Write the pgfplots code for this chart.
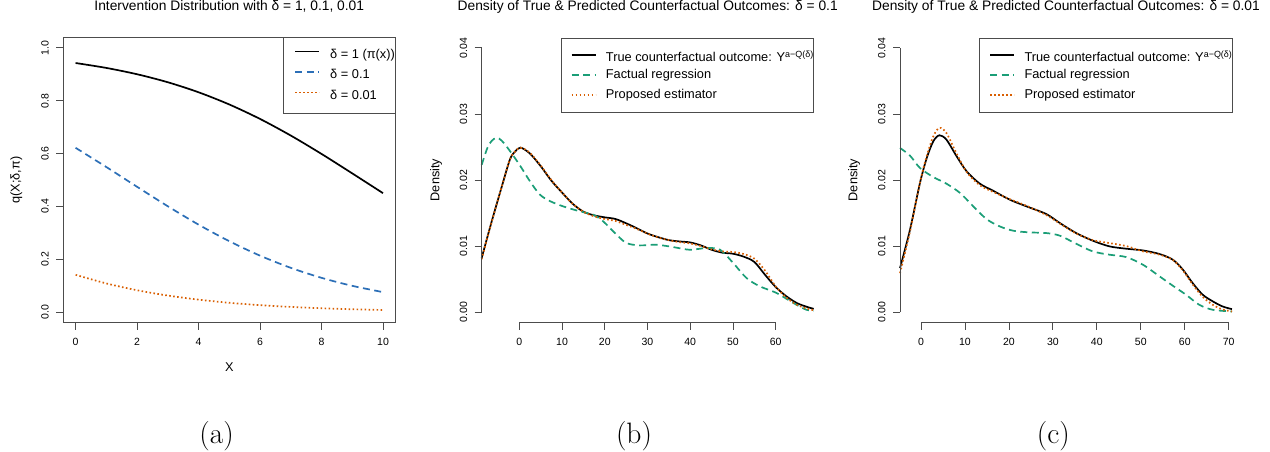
\documentclass[border=0pt]{standalone}
\usepackage{fontspec}
\setsansfont{Liberation Sans}
\usepackage{pgfplots}
\pgfplotsset{compat=1.18}

\definecolor{rblue}{HTML}{2C6FB7}
\definecolor{rorange}{HTML}{D95F02}
\definecolor{rgreen}{HTML}{1B9E77}

\newcommand{\tickfont}{\sffamily\fontsize{10.5}{12}\selectfont}
\newcommand{\labfont}{\sffamily\fontsize{12.7}{14}\selectfont}
\newcommand{\legfont}{\sffamily\fontsize{12.8}{14}\selectfont}
\newcommand{\titfont}{\sffamily\fontsize{13.8}{15}\selectfont}

\tikzset{
  ctrue/.style={black, line width=1.7pt},
  cblue/.style={rblue, line width=1.7pt, dash pattern=on 7pt off 4.5pt},
  cfact/.style={rgreen, line width=1.7pt, dash pattern=on 7pt off 4.5pt},
  cprop/.style={rorange, line width=1.7pt, dash pattern=on 1.6pt off 2.4pt},
  raxis/.style={black!70, line width=0.8pt},
  legtext/.style={anchor=base west, font=\legfont, inner sep=0pt},
}

\pgfplotsset{
  rpanel/.style={
    scale only axis, width=332pt, height=285.4pt, anchor=south west,
    clip=false,
    tick pos=left, tick align=outside, major tick length=7pt,
    every tick/.style={black!70, line width=0.8pt},
    axis line style={black!70, line width=0.8pt},
    scaled ticks=false,
    /pgf/number format/assume math mode=true,
    ticklabel style={font=\tickfont, inner sep=0pt},
    yticklabel style={rotate=90, anchor=south,
      /pgf/number format/fixed, /pgf/number format/fixed zerofill},
    xticklabel style={anchor=north},
    xticklabel shift=8.6pt, yticklabel shift=7.3pt,
    title style={font=\titfont, at={([yshift=21.3pt]axis description cs:0.5,1)}, anchor=base},
    label style={font=\labfont},
    xlabel style={at={([yshift=-44pt]axis description cs:0.5,0)}, anchor=center},
    ylabel style={anchor=center},
    legend style={at={(1,1)}, anchor=north east, draw=black!70, line width=0.8pt,
      inner xsep=0pt, inner ysep=11.5pt, row sep=8pt, column sep=10pt, font=\legfont,
      nodes={inner sep=0pt, text height=9pt, text depth=3pt}},
    legend cell align=left,
    legend image code/.code={\path (0pt,0pt); \draw[##1] (10.7pt,3.6pt) -- (34.7pt,3.6pt);},
  },
  % density panels: no box, only short axis lines
  dpanel/.style={rpanel,
    ymin=-0.0016, ymax=0.0416, ytick={0,0.01,0.02,0.03,0.04},
    yticklabel style={/pgf/number format/precision=2},
    axis line style={draw=none},
    ylabel={Density},
  },
}

\begin{document}
\begin{tikzpicture}
\path[use as bounding box] (0pt,0pt) rectangle (1270pt,451pt);

% (a) intervention distribution
\begin{axis}[rpanel, at={(63.3pt,128.3pt)},
  xmin=-0.4, xmax=10.4, ymin=-0.04, ymax=1.04,
  xtick={0,2,...,10}, ytick={0,0.2,0.4,0.6,0.8,1.0},
  yticklabel style={/pgf/number format/precision=1},
  title={Intervention Distribution with δ = 1, 0.1, 0.01},
  xlabel={X}, ylabel={q(X;δ,π)},
  ylabel style={at={([xshift=-47pt]axis description cs:0,0.5)}},
  legend style={row sep=8.5pt}]
\addplot[ctrue, smooth] coordinates {
 (0,0.9427) (1,0.9241) (2,0.9002) (3,0.8699) (4,0.8320) (5,0.7858)
 (6,0.7311) (7,0.6682) (8,0.5987) (9,0.5250) (10,0.4502)};
\addlegendentry{δ = 1 (π(x))}
\addplot[cblue, smooth] coordinates {
 (0,0.6218) (1,0.5491) (2,0.4743) (3,0.4006) (4,0.3311) (5,0.2684)
 (6,0.2137) (7,0.1676) (8,0.1298) (9,0.0995) (10,0.0757)};
\addlegendentry{δ = 0.1}
\addplot[cprop, smooth] coordinates {
 (0,0.1412) (1,0.1086) (2,0.0828) (3,0.0627) (4,0.0472) (5,0.0354)
 (6,0.0265) (7,0.0197) (8,0.0147) (9,0.0109) (10,0.0081)};
\addlegendentry{δ = 0.01}
\end{axis}

% (b) densities, delta = 0.1
\begin{axis}[dpanel, at={(481.7pt,128.3pt)},
  xmin=-8.8, xmax=68.9, xtick={0,10,...,60},
  title={Density of True \& Predicted Counterfactual Outcomes: δ = 0.1},
  ylabel style={at={([xshift=-45.7pt]axis description cs:0,0.5)}}]
\addplot[ctrue, smooth] coordinates {
 (-8.8,0.0082) (-7.5,0.0113) (-6.1,0.01455) (-4.1,0.0190) (-2.2,0.0231)
 (-1.0,0.0243) (0.3,0.0249) (2.5,0.0240) (5,0.0221) (7.5,0.0199)
 (10,0.0181) (12.5,0.0164) (15,0.0152) (17.5,0.01465) (20,0.01435)
 (22.5,0.0141) (25,0.01345) (27.5,0.0127) (30,0.0119) (32.5,0.01135)
 (35,0.0109) (37.5,0.0107) (40,0.01055) (42.5,0.0101) (45,0.00944)
 (47.5,0.0090) (50,0.00884) (52.5,0.0084) (55,0.0076) (57.5,0.00566)
 (60,0.0038) (62.5,0.0024) (65,0.00136) (67.5,0.00076) (68.9,0.0005)};
\addplot[cfact, smooth] coordinates {
 (-8.8,0.0223) (-7.5,0.0248) (-6.5,0.0259) (-5.3,0.0264) (-4.2,0.0260)
 (-3.0,0.0251) (-1.0,0.0233) (0.55,0.0218) (2.5,0.0198) (4.8,0.0178)
 (7.2,0.0168) (10.3,0.0160) (14.2,0.01525) (17.3,0.01475) (19.7,0.0137)
 (22.8,0.0117) (25.1,0.01045) (28.2,0.0101) (32.1,0.0102) (36,0.00985)
 (39.9,0.00944) (43.8,0.0097) (47,0.00944) (50.1,0.0074) (53.2,0.00515)
 (56.3,0.0039) (60.2,0.0029) (64.1,0.0014) (67.2,0.00035) (68.9,0.0002)};
\addplot[cprop, smooth] coordinates {
 (-8.8,0.0080) (-7.5,0.0112) (-6.1,0.0145) (-4.1,0.0190) (-2.2,0.0231)
 (-1.0,0.0243) (0.3,0.0249) (2.5,0.0241) (5,0.0222) (7.5,0.0200)
 (10,0.0181) (12.5,0.0164) (15,0.0152) (17.5,0.0145) (20,0.0141)
 (22.5,0.0138) (25,0.0132) (27.5,0.0126) (30,0.0119) (32.5,0.0113)
 (35,0.0109) (37.5,0.0106) (40,0.0104) (42.5,0.0100) (45,0.0095)
 (47.5,0.0092) (50,0.0091) (52.5,0.0088) (55,0.0081) (57.5,0.0063)
 (60,0.0039) (62.5,0.0022) (65,0.0011) (67.5,0.0005) (68.9,0.0003)};
% short axis lines in R style
\addplot[raxis, forget plot] coordinates {(0,-0.0016) (60,-0.0016)};
\addplot[raxis, forget plot] coordinates {(-8.8,0) (-8.8,0.04)};
\end{axis}

% (c) densities, delta = 0.01
\begin{axis}[dpanel, at={(900pt,128.3pt)},
  xmin=-4.77, xmax=70.75, xtick={0,10,...,70},
  title={Density of True \& Predicted Counterfactual Outcomes: δ = 0.01},
  ylabel style={at={([xshift=-46pt]axis description cs:0,0.5)}}]
\addplot[ctrue, smooth] coordinates {
 (-4.77,0.00667) (-2.5,0.01247) (-0.23,0.01955) (1.3,0.0233) (2.8,0.02586)
 (4.2,0.02677) (5.8,0.0261) (8.1,0.0236) (10.4,0.0213) (13.4,0.01944)
 (16.4,0.01838) (20.2,0.01702) (24.0,0.01601) (28.5,0.01485) (31.6,0.01348)
 (35.3,0.01197) (39.1,0.01081) (42.9,0.00995) (46.7,0.0096) (50.5,0.00934)
 (54.3,0.00879) (57.3,0.00793) (59.6,0.00641) (61.8,0.00439) (64.1,0.00263)
 (66.4,0.00162) (68.6,0.00086) (70.75,0.00045)};
\addplot[cfact, smooth] coordinates {
 (-4.77,0.02485) (-2.5,0.02369) (-0.23,0.02182) (2.8,0.02045) (5.8,0.01944)
 (8.9,0.01803) (11.9,0.01601) (14.9,0.01409) (17.9,0.01298) (21.0,0.01232)
 (24.7,0.01207) (28.5,0.01197) (31.6,0.01157) (35.3,0.01035) (39.1,0.00919)
 (42.9,0.00869) (46.7,0.00833) (50.5,0.00717) (54.3,0.0054) (57.3,0.00399)
 (60.3,0.00263) (63.3,0.00111) (66.4,0.00035) (70.75,0.0001)};
\addplot[cprop, smooth] coordinates {
 (-4.77,0.0059) (-2.5,0.0122) (-0.23,0.0196) (1.3,0.0236) (2.8,0.0266)
 (4.2,0.0279) (5.8,0.0271) (8.1,0.0240) (10.4,0.0212) (13.4,0.0192)
 (16.4,0.0182) (20.2,0.0171) (24.0,0.0161) (28.5,0.0147) (31.6,0.0134)
 (35.3,0.0119) (39.1,0.0109) (42.9,0.01045) (46.7,0.0100) (50.5,0.0092)
 (54.3,0.0087) (57.3,0.0079) (59.6,0.0063) (61.8,0.0042) (64.1,0.0023)
 (66.4,0.0011) (68.6,0.0004) (70.75,0.0001)};
\addplot[raxis, forget plot] coordinates {(0,-0.0016) (70,-0.0016)};
\addplot[raxis, forget plot] coordinates {(-4.77,0) (-4.77,0.04)};
\end{axis}

% legends of (b) and (c), drawn as R draws them
\draw[raxis, fill=white] (561pt,338.3pt) rectangle (813.7pt,412.7pt);
\draw[ctrue] (571.7pt,396pt) -- (595.7pt,396pt);
\draw[cfact] (571.7pt,376pt) -- (595.7pt,376pt);
\draw[cprop] (571.7pt,356pt) -- (595.7pt,356pt);
\node[legtext] at (605.7pt,389pt) {True counterfactual outcome: Y\textsuperscript{a−Q(δ)}};
\node[legtext] at (605.7pt,372.5pt) {Factual regression};
\node[legtext] at (605.7pt,352.5pt) {Proposed estimator};

\draw[raxis, fill=white] (979.3pt,338.3pt) rectangle (1232.3pt,412.7pt);
\draw[ctrue] (990pt,396pt) -- (1014pt,396pt);
\draw[cfact] (990pt,376pt) -- (1014pt,376pt);
\draw[cprop] (990pt,356pt) -- (1014pt,356pt);
\node[legtext] at (1024.3pt,389pt) {True counterfactual outcome: Y\textsuperscript{a−Q(δ)}};
\node[legtext] at (1024.3pt,372.5pt) {Factual regression};
\node[legtext] at (1024.3pt,352.5pt) {Proposed estimator};

% sub-figure captions
\node[font=\rmfamily\fontsize{29.5}{30}\selectfont, anchor=base] at (216.7pt,7.7pt) {(a)};
\node[font=\rmfamily\fontsize{29.5}{30}\selectfont, anchor=base] at (634pt,7.7pt) {(b)};
\node[font=\rmfamily\fontsize{29.5}{30}\selectfont, anchor=base] at (1053.3pt,7.7pt) {(c)};
\end{tikzpicture}
\end{document}
